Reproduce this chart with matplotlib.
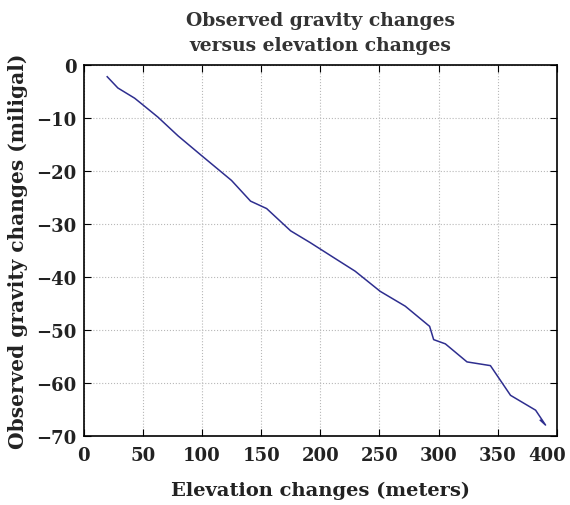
import numpy as np
import matplotlib
matplotlib.use('Agg')
import matplotlib.pyplot as plt
from matplotlib.transforms import ScaledTranslation

# elevation change (m) vs observed gravity change (mGal)
elev = [19.8, 28.8, 43.0, 50.0, 62.7, 79.7, 99.5, 124.9, 141.0, 154.6, 174.9,
        191.3, 211.0, 229.4, 250.6, 271.8, 292.4, 295.8, 305.7, 324.0, 343.8,
        360.8, 382.0, 390.4, 386.0]
grav = [-2.25, -4.37, -6.3, -7.56, -9.87, -13.4, -17.1, -21.8, -25.7, -27.1, -31.3,
        -33.5, -36.3, -38.9, -42.7, -45.5, -49.3, -51.8, -52.6, -56.0, -56.7,
        -62.3, -65.1, -67.9, -67.0]
xticks = [0, 50, 100, 150, 200, 250, 300, 350, 400]
yticks = [0, -10, -20, -30, -40, -50, -60, -70]

plt.rcParams['font.family'] = 'DejaVu Serif'
plt.rcParams['font.weight'] = 'bold'

fig = plt.figure(figsize=(5.7, 5.06), dpi=100)
ax = fig.add_axes([0.147, 0.136, 0.83, 0.734])
ax.plot(elev, grav, color='#2e2e8f', linewidth=1.1)
ax.set_xlim(0, 400)
ax.set_ylim(-70, 0)
ax.set_xticks(xticks)
ax.set_yticks(yticks)
ax.grid(True, linestyle=':', color='#b8b8b8', linewidth=0.8)
ax.tick_params(direction='in', top=True, right=True, labelsize=13, length=5)
ax.tick_params(axis='x', pad=7)
ax.tick_params(axis='y', pad=5)
for lab in ax.get_xticklabels() + ax.get_yticklabels():
    lab.set_fontweight('bold')
    lab.set_color('#222222')
# last x label sits a bit left so it stays inside the figure
last = ax.get_xticklabels()[-1]
last.set_transform(last.get_transform() + ScaledTranslation(-7 / 72, 0, fig.dpi_scale_trans))
ax.set_xlabel('Elevation changes (meters)', fontsize=14, fontweight='bold',
              labelpad=12, color='#222222')
ax.set_ylabel('Observed gravity changes (miligal)', fontsize=14.5, fontweight='bold',
              labelpad=6, color='#222222')
ax.set_title('Observed gravity changes\nversus elevation changes', fontsize=13.5,
             fontweight='bold', color='#333333', pad=11, linespacing=1.45)
for s in ax.spines.values():
    s.set_linewidth(1.2)

fig.savefig('out.png', dpi=100)
